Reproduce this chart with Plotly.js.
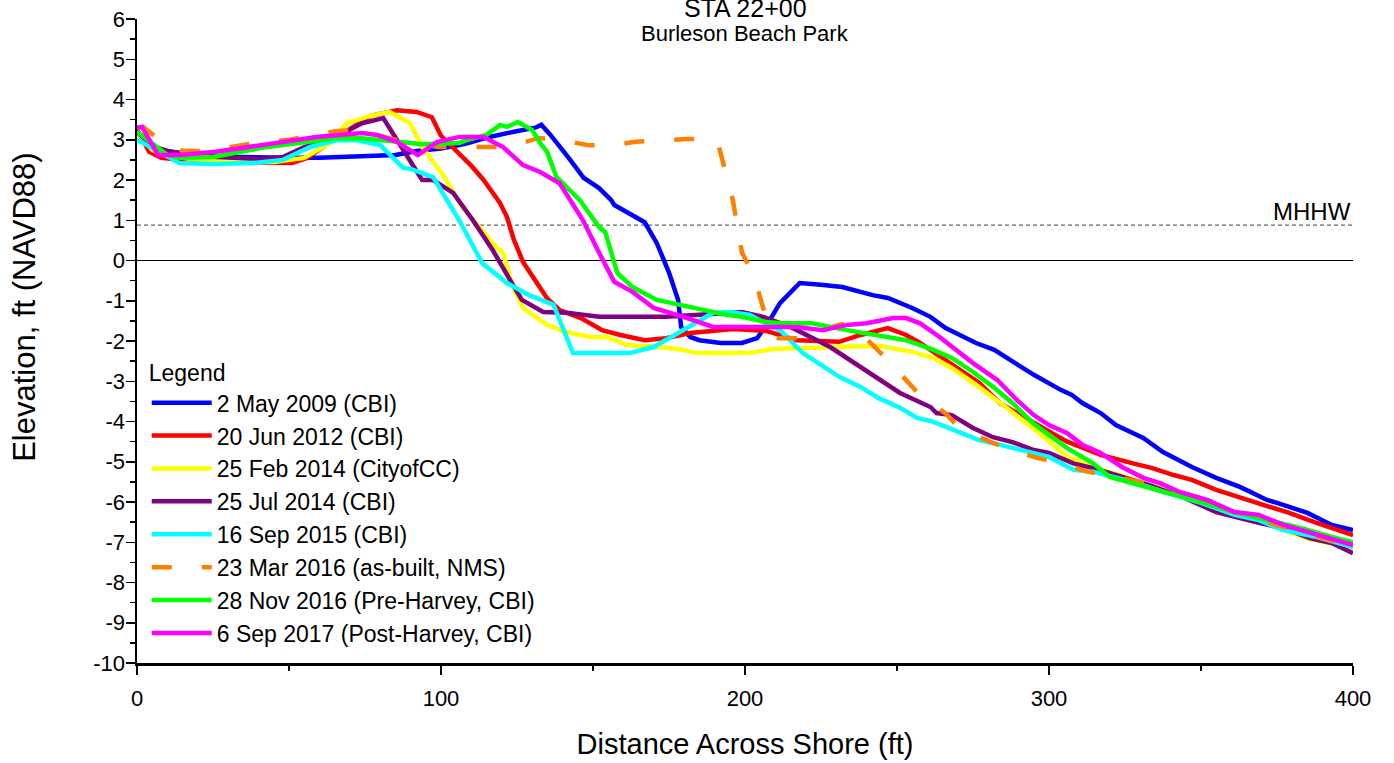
<!DOCTYPE html>
<html>
<head>
<meta charset="utf-8">
<script src="https://cdn.plot.ly/plotly-3.0.1.min.js"></script>
<style>html,body{margin:0;padding:0;background:#fff;}#chart{width:1394px;height:763px;}</style>
</head>
<body>
<div id="chart"></div>
<script>
// ---- data ----
const seriesNames = [
  "2 May 2009 (CBI)",
  "20 Jun 2012 (CBI)",
  "25 Feb 2014 (CityofCC)",
  "25 Jul 2014 (CBI)",
  "16 Sep 2015 (CBI)",
  "23 Mar 2016 (as-built, NMS)",
  "28 Nov 2016 (Pre-Harvey, CBI)",
  "6 Sep 2017 (Post-Harvey, CBI)"
];

const may2009X = [0,4,11,20,30,41,50,60,74,85,92,100,108,116,124,131,133,136,142,147,152,156,157,162,167,171,175,178,179,182,185,192,199,204,208,211.5,218,225,232,242,247,255,261,266,276,282,288,295,304,307.5,311,317,322,327.6,331,337.5,347,355,363,371.7,375,385,393,400];
const may2009Y = [3.2,2.85,2.7,2.62,2.58,2.55,2.55,2.55,2.58,2.62,2.72,2.78,2.9,3.07,3.2,3.3,3.37,3.12,2.55,2.05,1.8,1.5,1.38,1.18,0.95,0.43,-0.3,-0.98,-1.65,-1.9,-1.98,-2.05,-2.05,-1.93,-1.5,-1.06,-0.56,-0.6,-0.66,-0.86,-0.93,-1.18,-1.4,-1.68,-2.05,-2.22,-2.52,-2.84,-3.22,-3.34,-3.54,-3.79,-4.09,-4.29,-4.41,-4.76,-5.13,-5.4,-5.63,-5.95,-6.02,-6.27,-6.57,-6.7];

const jun2012X = [0,4,8,14,25,41,51,56,61,68,77,85.5,92,97,100,105.6,110,114,119.4,121.7,124,127,131.6,135,139,146,153,159,167,174,182,189.5,196,207,217,231,238,247,253,257.6,266,277,284,292.8,300,306,317,327.6,334,341,347,355,363,370.5,379,388,400];
const jun2012Y = [3.25,2.7,2.55,2.5,2.45,2.42,2.42,2.55,2.82,3.17,3.6,3.73,3.69,3.56,3.1,2.7,2.35,2.0,1.43,1.08,0.51,-0.04,-0.56,-0.95,-1.23,-1.43,-1.73,-1.85,-1.98,-1.93,-1.8,-1.75,-1.7,-1.75,-1.98,-2.02,-1.85,-1.68,-1.85,-2.05,-2.47,-3.04,-3.55,-3.95,-4.25,-4.5,-4.83,-5.04,-5.16,-5.33,-5.45,-5.7,-5.88,-6.07,-6.27,-6.52,-6.82];

const feb2014X = [0,5,10,20,30,45,55,60,63.5,69,77,83,86.5,89.8,94,100.7,107,114,118.4,120.4,123.7,127,134.9,141.4,149,154.6,161,172,179.6,184,201.6,209,222,235.5,244,255,262,268,277,284,292.8,297,306,317,325.6,340,355,370,385,400];
const feb2014Y = [3.2,2.75,2.6,2.5,2.45,2.45,2.55,2.75,2.92,3.41,3.6,3.69,3.56,3.41,2.8,2.12,1.33,0.68,0.31,0.19,-0.66,-1.18,-1.6,-1.78,-1.9,-1.9,-2.1,-2.15,-2.22,-2.3,-2.3,-2.2,-2.17,-2.12,-2.12,-2.27,-2.42,-2.67,-3.14,-3.54,-4.04,-4.3,-4.88,-5.2,-5.38,-5.75,-6.1,-6.5,-6.9,-7.15];

const jul2014X = [0,5,10,14,26,41,48,55,63.5,74,81,93.8,97.4,104,110.5,117,122.7,126.6,133.6,141.4,152,174,185,199,206,215,228,238,244,251,261,263,268,275,281.6,288,295,300,308,314.5,322,333,344,355,369,377,386,393,400];
const jul2014Y = [3.2,2.85,2.72,2.67,2.57,2.52,2.57,2.82,2.99,3.41,3.54,2.0,2.0,1.68,1.0,0.26,-0.48,-0.98,-1.28,-1.3,-1.4,-1.4,-1.35,-1.28,-1.4,-1.65,-2.15,-2.65,-2.97,-3.29,-3.64,-3.79,-3.84,-4.16,-4.39,-4.51,-4.71,-4.78,-5.04,-5.16,-5.33,-5.58,-5.88,-6.25,-6.52,-6.65,-6.9,-7.02,-7.27];

const sep2015X = [0,3.3,14,25,38,48,57,66,72,80,87.5,89.8,97.4,106,113.5,121.7,129,137,143.4,162,170,178,185,189.5,195,201.6,206,211.5,219,231,238,244,251,256.6,262,270,277,284,295,300,308,314.5,327.6,339,350,361,369,377,388,400];
const sep2015Y = [3.0,2.87,2.42,2.4,2.42,2.5,2.82,2.99,2.99,2.87,2.3,2.28,2.07,1.0,-0.06,-0.56,-0.86,-1.1,-2.3,-2.3,-2.15,-1.8,-1.48,-1.3,-1.28,-1.35,-1.53,-1.73,-2.3,-2.89,-3.14,-3.42,-3.66,-3.91,-4.01,-4.26,-4.46,-4.58,-4.78,-4.88,-5.2,-5.25,-5.5,-5.78,-6.02,-6.32,-6.45,-6.7,-6.87,-7.12];

const mar2016X = [0,2,7.6,15,23,39,50,66,72,85,99,105,115,122,132,138,148,155,164,171,181,189,191,196,199,203,207,211,222,226,232,238,246,257,266,271,281,287,296,303,313,319,330,350,370,385,400];
const mar2016Y = [3.3,3.32,2.99,2.72,2.72,2.92,3.0,3.22,3.24,3.0,2.82,2.82,2.8,2.82,3.04,3.02,2.87,2.85,2.95,2.99,3.02,3.02,2.95,1.5,0.2,-0.4,-1.45,-1.93,-1.93,-1.7,-1.58,-1.8,-2.4,-3.3,-3.8,-4.2,-4.5,-4.7,-4.9,-5.03,-5.25,-5.33,-5.5,-6.0,-6.45,-6.8,-7.1];

const nov2016X = [0,5,10,14,25,41,52.6,66,74,85.5,94,106,108.5,115,119.4,121.7,125.3,130,132.6,134.9,138,140,145.7,152,154,158,163,171,179.6,187.5,194,199,207,211.5,222,233.5,244,253,262,268,275,281.6,288,295,306,314.5,320,327.6,339,350,361,372,383,393,400];
const nov2016Y = [3.2,2.9,2.62,2.55,2.57,2.8,2.9,3.04,3.04,2.94,2.89,2.92,2.99,3.12,3.37,3.32,3.44,3.24,2.92,2.7,2.07,1.92,1.5,0.83,0.71,-0.31,-0.66,-0.98,-1.12,-1.23,-1.35,-1.4,-1.53,-1.56,-1.56,-1.73,-1.85,-1.98,-2.22,-2.42,-2.77,-3.14,-3.54,-4.06,-4.66,-5.04,-5.38,-5.53,-5.78,-6.0,-6.25,-6.45,-6.65,-6.87,-7.0];

const sep2017X = [0,1.6,7,14,26,41,59,74,79,85.5,92.4,98.7,106,114,120.4,127,132.6,139,146.7,152,157,163,170,181,189.5,207,217,225.7,233.5,240,248.7,253,257.6,264,275,283,289.5,295,300,306,311,317,324,331,336.5,343,352,361,369,377,388,400];
const sep2017Y = [3.3,3.32,2.62,2.62,2.7,2.87,3.07,3.17,3.12,2.95,2.62,2.94,3.07,3.07,2.82,2.37,2.2,1.92,1.0,0.19,-0.53,-0.78,-1.18,-1.43,-1.65,-1.65,-1.65,-1.73,-1.6,-1.56,-1.43,-1.43,-1.56,-1.9,-2.55,-2.97,-3.47,-3.84,-4.09,-4.29,-4.58,-4.78,-5.13,-5.4,-5.53,-5.75,-5.95,-6.25,-6.32,-6.57,-6.82,-7.07];

const mhhwLevel = 0.88;
const xTicks = [0,100,200,300,400];
const yTicks = [6,5,4,3,2,1,0,-1,-2,-3,-4,-5,-6,-7,-8,-9,-10];

// ---- styling ----
const FONT = "Liberation Sans, Arial, Helvetica, sans-serif";
const colors = ["#0000FF","#FF0000","#FFFF00","#800080","#00FFFF","#FF8000","#00FF00","#FF00FF"];
const xs = [may2009X,jun2012X,feb2014X,jul2014X,sep2015X,mar2016X,nov2016X,sep2017X];
const ys = [may2009Y,jun2012Y,feb2014Y,jul2014Y,sep2015Y,mar2016Y,nov2016Y,sep2017Y];

const traces = seriesNames.map((name,i)=>({
  type:"scatter", mode:"lines", name:name,
  x: xs[i], y: ys[i],
  line:{color:colors[i], width:4.5, dash: i===5 ? "20px,30px" : "solid"},
  hoverinfo:"x+y+name"
}));

const layout = {
  width:1394, height:763,
  margin:{l:137, r:41, t:19, b:100},
  paper_bgcolor:"#fff", plot_bgcolor:"#fff",
  font:{family:FONT, color:"#000", size:22},
  showlegend:true,
  legend:{
    x:0.008, y:0.484, xanchor:"left", yanchor:"top",
    bgcolor:"rgba(0,0,0,0)", borderwidth:0,
    font:{family:FONT, size:23, color:"#000"},
    title:{text:"Legend", side:"top", font:{family:FONT, size:23, color:"#000"}},
    itemwidth:60, tracegroupgap:0
  },
  xaxis:{
    range:[0,400], tickmode:"array", tickvals:xTicks, ticktext:xTicks.map(String),
    showgrid:false, zeroline:false, showline:true, linecolor:"#000", linewidth:2.5,
    ticks:"outside", ticklen:9, tickwidth:1.5, tickcolor:"#000",
    minor:{dtick:50, ticks:"outside", ticklen:5, tickwidth:1.5, tickcolor:"#000", showgrid:false},
    tickfont:{family:FONT, size:22, color:"#000"}, ticklabelstandoff:5,
    title:{text:"Distance Across Shore (ft)", font:{family:FONT, size:29, color:"#000"}, standoff:24},
    fixedrange:true
  },
  yaxis:{
    range:[-10,6], tickmode:"array", tickvals:yTicks, ticktext:yTicks.map(String),
    showgrid:false, zeroline:true, zerolinecolor:"#000", zerolinewidth:1.2,
    showline:true, linecolor:"#000", linewidth:2.5,
    ticks:"outside", ticklen:9, tickwidth:1.5, tickcolor:"#000",
    minor:{dtick:0.5, ticks:"outside", ticklen:5, tickwidth:1.5, tickcolor:"#000", showgrid:false},
    tickfont:{family:FONT, size:22, color:"#000"}, ticklabelstandoff:-4,
    fixedrange:true
  },
  shapes:[
    {type:"line", xref:"x", yref:"y", x0:0, x1:400, y0:mhhwLevel, y1:mhhwLevel,
     line:{color:"#666", width:1.2, dash:"4px,3px"}, layer:"below"}
  ],
  annotations:[
    {text:"STA 22+00", xref:"paper", yref:"paper", x:0.5, y:1.0, yshift:11, yanchor:"middle", showarrow:false,
     font:{family:FONT, size:25, color:"#000"}},
    {text:"Burleson Beach Park", xref:"paper", yref:"paper", x:0.5, y:1.0, yshift:-14, yanchor:"middle", showarrow:false,
     font:{family:FONT, size:22, color:"#000"}},
    {text:"MHHW", xref:"x", yref:"y", x:400, y:mhhwLevel, xanchor:"right", yanchor:"bottom", yshift:-2, showarrow:false,
     font:{family:FONT, size:24, color:"#000"}},
    {text:"Elevation, ft (NAVD88)", xref:"paper", yref:"paper", x:-0.0921, y:0.553, xanchor:"center", yanchor:"middle",
     textangle:-90, showarrow:false, font:{family:FONT, size:31, color:"#000"}}
  ]
};

Plotly.newPlot("chart", traces, layout, {displayModeBar:false, staticPlot:true});
</script>
</body>
</html>
